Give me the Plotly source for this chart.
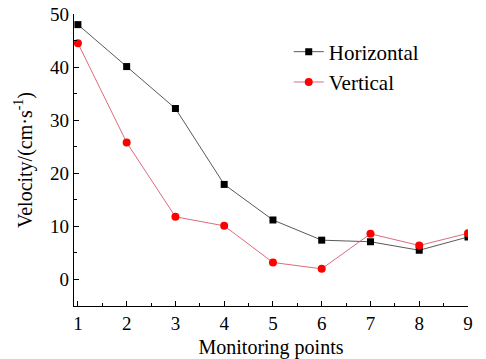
import plotly.graph_objects as go

points = [1, 2, 3, 4, 5, 6, 7, 8, 9]
horizontal = [48.0, 40.1, 32.2, 17.9, 11.2, 7.4, 7.1, 5.5, 8.0]
vertical = [44.5, 25.8, 11.8, 10.1, 3.2, 2.0, 8.6, 6.4, 8.7]
x_ticks = [1, 2, 3, 4, 5, 6, 7, 8, 9]
y_ticks = [0, 10, 20, 30, 40, 50]

FONT = "Liberation Serif, Times New Roman, serif"

fig = go.Figure()
fig.add_trace(go.Scatter(
    x=points, y=horizontal, name="Horizontal", mode="lines+markers",
    line=dict(color="rgb(70,70,70)", width=0.9),
    marker=dict(symbol="square", size=7, color="black"),
))
fig.add_trace(go.Scatter(
    x=points, y=vertical, name="Vertical", mode="lines+markers",
    line=dict(color="rgb(215,90,110)", width=0.9),
    marker=dict(symbol="circle", size=8, color="red"),
))

fig.update_layout(
    width=486, height=359,
    margin=dict(l=74, r=17.5, t=14, b=53, autoexpand=False),
    paper_bgcolor="white", plot_bgcolor="white",
    font=dict(family=FONT, size=19, color="black"),
    showlegend=True,
    legend=dict(x=0.545, y=0.94, xanchor="left", yanchor="top",
                font=dict(family=FONT, size=21), bgcolor="rgba(0,0,0,0)",
                tracegroupgap=0),
    xaxis=dict(
        range=[0.92, 9.0], tickvals=x_ticks, ticktext=[str(v) for v in x_ticks],
        showline=True, linecolor="black", linewidth=1.3, mirror=False,
        showgrid=False, zeroline=False, automargin=False,
        ticks="inside", ticklen=5, tickwidth=1, tickcolor="black",
        minor=dict(dtick=0.5, tick0=0.5, ticks="inside", ticklen=3, tickwidth=1, tickcolor="black", showgrid=False),
        tickfont=dict(family=FONT, size=19, color="black"),
        title=dict(text="Monitoring points", font=dict(family=FONT, size=20), standoff=12),
    ),
    yaxis=dict(
        range=[-5, 50], tickvals=y_ticks, ticktext=[str(v) for v in y_ticks],
        showline=True, linecolor="black", linewidth=1.3, mirror=False,
        showgrid=False, zeroline=False, automargin=False,
        ticks="inside", ticklen=5, tickwidth=1, tickcolor="black",
        minor=dict(dtick=5, tick0=5, ticks="inside", ticklen=3, tickwidth=1, tickcolor="black", showgrid=False),
        tickfont=dict(family=FONT, size=19, color="black"),
        title=dict(text="Velocity/(cm·s<sup>-1</sup>)", font=dict(family=FONT, size=20), standoff=12),
    ),
)

fig.write_html("out.html")
